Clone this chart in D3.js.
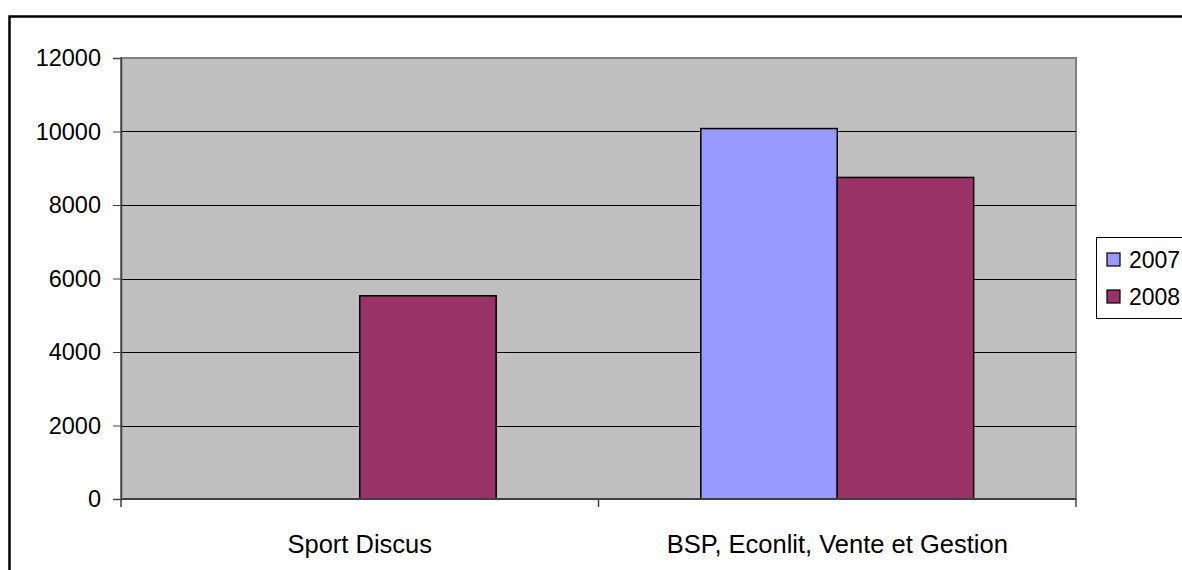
<!DOCTYPE html>
<html>
<head>
<meta charset="utf-8">
<script src="https://cdn.jsdelivr.net/npm/d3@7"></script>
<style>
  body { margin: 0; background: #fff; }
  svg { display: block; font-family: Arial, "Liberation Sans", sans-serif; }
</style>
</head>
<body>
<div id="chart"></div>
<script>
// data
var categories = ["Sport Discus", "BSP, Econlit, Vente et Gestion"];
var years = ["2007", "2008"];
var values2007 = [null, 10080];
var values2008 = [5530, 8750];
var yTicks = [0, 2000, 4000, 6000, 8000, 10000, 12000];

var colors = { "2007": "#9999ff", "2008": "#993366" };

var width = 1182, height = 570;
var plot = { left: 121, right: 1076, top: 58, bottom: 499 };

var svg = d3.select("#chart").append("svg")
    .attr("width", width)
    .attr("height", height);

// outer chart border (runs off the right and bottom edges)
svg.append("rect")
    .attr("x", 9.5).attr("y", 16.5)
    .attr("width", 1300).attr("height", 700)
    .attr("fill", "#fff")
    .attr("stroke", "#000")
    .attr("stroke-width", 2.5);

var x0 = d3.scaleBand()
    .domain(categories)
    .range([plot.left, plot.right]);

var x1 = d3.scaleBand()
    .domain(years)
    .range([0, x0.bandwidth()])
    .paddingOuter(0.75);

var y = d3.scaleLinear()
    .domain([0, 12000])
    .range([plot.bottom, plot.top]);

// plot area
svg.append("rect")
    .attr("x", plot.left).attr("y", plot.top)
    .attr("width", plot.right - plot.left)
    .attr("height", plot.bottom - plot.top)
    .attr("fill", "#c0c0c0")
    .attr("stroke", "#808080")
    .attr("stroke-width", 2);

// gridlines
svg.append("g").selectAll("line")
    .data(yTicks.filter(function(d){ return d > 0 && d < 12000; }))
  .enter().append("line")
    .attr("x1", plot.left).attr("x2", plot.right)
    .attr("y1", function(d){ return Math.round(y(d)) + 0.5; })
    .attr("y2", function(d){ return Math.round(y(d)) + 0.5; })
    .attr("stroke", "#000")
    .attr("stroke-width", 1);

// bars
var rows = categories.map(function(c, i){
  return { cat: c, vals: [
    { year: "2007", v: values2007[i] },
    { year: "2008", v: values2008[i] }
  ]};
});

var groups = svg.append("g").selectAll("g")
    .data(rows)
  .enter().append("g")
    .attr("transform", function(d){ return "translate(" + x0(d.cat) + ",0)"; });

groups.selectAll("rect")
    .data(function(d){ return d.vals.filter(function(e){ return e.v != null; }); })
  .enter().append("rect")
    .attr("x", function(d){ return x1(d.year); })
    .attr("width", x1.bandwidth())
    .attr("y", function(d){ return y(d.v); })
    .attr("height", function(d){ return y(0) - y(d.v); })
    .attr("fill", function(d){ return colors[d.year]; })
    .attr("stroke", "#000")
    .attr("stroke-width", 1.5);

// y axis
var yAxis = d3.axisLeft(y)
    .tickValues(yTicks)
    .tickSize(8)
    .tickPadding(12)
    .tickFormat(d3.format("d"));

var gy = svg.append("g")
    .attr("transform", "translate(" + plot.left + ",0)")
    .call(yAxis);
gy.select(".domain").attr("stroke", "#404040").attr("stroke-width", 1.5);
gy.selectAll(".tick line").attr("stroke", "#404040");
gy.selectAll("text")
    .attr("font-size", 23.5)
    .attr("font-family", "Arial, 'Liberation Sans', sans-serif")
    .attr("fill", "#000");

// x axis: ticks at category boundaries
var gx = svg.append("g")
    .attr("transform", "translate(0," + plot.bottom + ")");
gx.append("line")
    .attr("x1", plot.left).attr("x2", plot.right)
    .attr("stroke", "#404040").attr("stroke-width", 2);
var bounds = categories.map(function(c){ return x0(c); }).concat([plot.right]);
gx.selectAll("line.tick")
    .data(bounds)
  .enter().append("line")
    .attr("class", "tick")
    .attr("x1", function(d){ return d; }).attr("x2", function(d){ return d; })
    .attr("y1", 0).attr("y2", 8)
    .attr("stroke", "#404040").attr("stroke-width", 1.5);
gx.selectAll("text")
    .data(categories)
  .enter().append("text")
    .attr("x", function(d){ return x0(d) + x0.bandwidth() / 2; })
    .attr("y", 54)
    .attr("text-anchor", "middle")
    .attr("font-size", 25.5)
    .text(function(d){ return d; });

// legend (cut off at the right edge)
var legend = svg.append("g");
legend.append("rect")
    .attr("x", 1096.5).attr("y", 237.5)
    .attr("width", 120).attr("height", 81)
    .attr("fill", "#fff")
    .attr("stroke", "#000")
    .attr("stroke-width", 1);

var li = legend.selectAll("g.item")
    .data(years)
  .enter().append("g")
    .attr("class", "item")
    .attr("transform", function(d, i){ return "translate(1107," + (253 + i * 37) + ")"; });
li.append("rect")
    .attr("width", 13).attr("height", 13)
    .attr("fill", function(d){ return colors[d]; })
    .attr("stroke", "#000")
    .attr("stroke-width", 1.2);
li.append("text")
    .attr("x", 22).attr("y", 7)
    .attr("dy", "0.35em")
    .attr("font-size", 23)
    .text(function(d){ return d; });
</script>
</body>
</html>
